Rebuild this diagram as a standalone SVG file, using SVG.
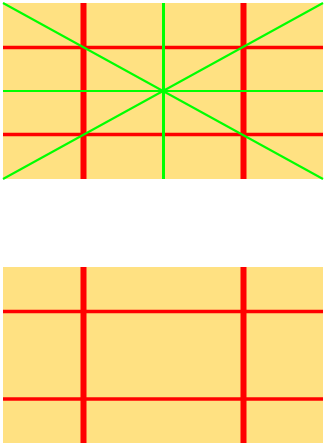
<svg xmlns="http://www.w3.org/2000/svg" width="325" height="444" viewBox="0 0 325 444">
<style>
.bg{fill:#FFE182;stroke:none}
.rv{stroke:#FF0000;stroke-width:6}
.rh{stroke:#FF0000;stroke-width:3.5}
.g{stroke:#00FF00;stroke-width:2}
.gv{stroke:#00FF00;stroke-width:3}
</style>
<g id="top">
<rect class="bg" x="3" y="3" width="320" height="176"/>
<line class="rv" x1="83.5" y1="3" x2="83.5" y2="179"/>
<line class="rv" x1="243.5" y1="3" x2="243.5" y2="179"/>
<line class="rh" x1="3" y1="47.5" x2="323" y2="47.5"/>
<line class="rh" x1="3" y1="134.5" x2="323" y2="134.5"/>
<line class="g" x1="3" y1="91" x2="323" y2="91"/>
<line class="gv" x1="163.5" y1="3" x2="163.5" y2="179"/>
<line class="g" x1="3" y1="3" x2="323" y2="179"/>
<line class="g" x1="3" y1="179" x2="323" y2="3"/>
</g>
<g id="bottom">
<rect class="bg" x="3" y="267" width="320" height="176"/>
<line class="rv" x1="83.5" y1="267" x2="83.5" y2="443"/>
<line class="rv" x1="243.5" y1="267" x2="243.5" y2="443"/>
<line class="rh" x1="3" y1="311.5" x2="323" y2="311.5"/>
<line class="rh" x1="3" y1="399" x2="323" y2="399"/>
</g>
</svg>
